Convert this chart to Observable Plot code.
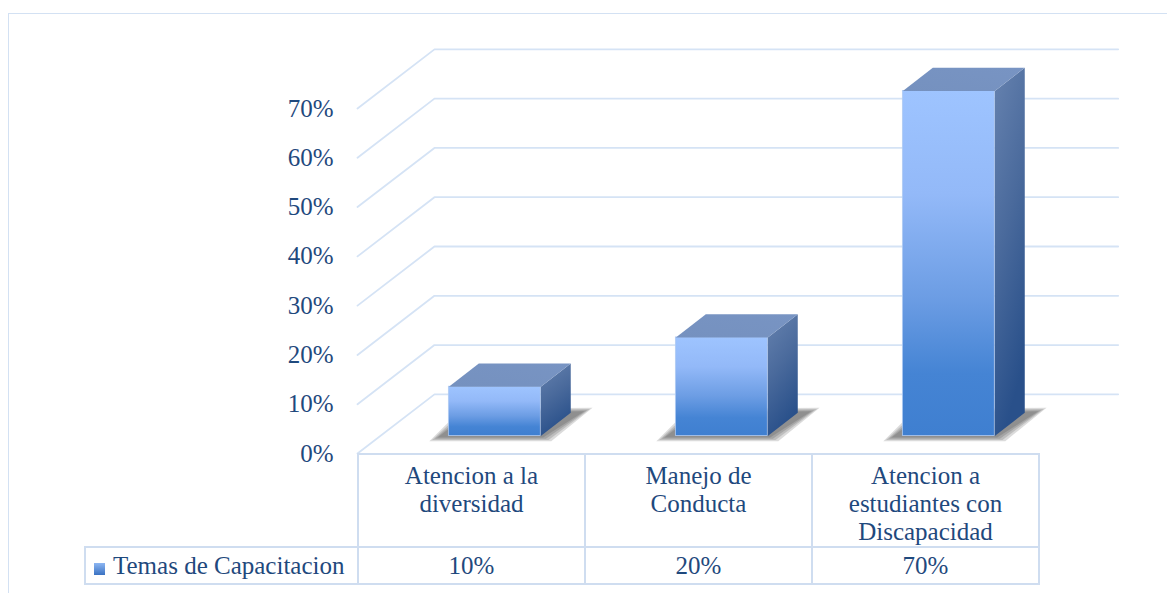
<!DOCTYPE html>
<html><head><meta charset="utf-8">
<script src="https://cdn.jsdelivr.net/npm/d3@7"></script>
<script src="https://cdn.jsdelivr.net/npm/@observablehq/plot@0.6"></script>
<style>
html,body{margin:0;padding:0;background:#fff;overflow:hidden;}
#wrap{position:relative;width:1167px;height:593px;overflow:hidden;font-family:"Liberation Serif",serif;color:#1F497D;}
#chart{position:absolute;left:0;top:0;}
#frame{position:absolute;left:8px;top:13px;width:1300px;height:700px;border:1.5px solid #D3E1F3;box-sizing:border-box;pointer-events:none;}
table{position:absolute;border-collapse:collapse;table-layout:fixed;font-size:25px;color:#1F497D;font-family:"Liberation Serif",serif;}
td{border:2px solid #CFDDF0;padding:0;}
td.cat{vertical-align:top;text-align:center;padding:7px 22px 0;line-height:28px;}
td.val{vertical-align:middle;text-align:center;line-height:1;}
td.leg{vertical-align:middle;white-space:nowrap;padding-left:8px;line-height:1;}
.key{display:inline-block;width:11px;height:12px;background:linear-gradient(#8DB6F2,#3A72C2);margin-right:8px;vertical-align:-1px;}
</style></head><body>
<div id="wrap"><div id="chart"></div><div id="frame"></div></div>
<script>
// ---- data ----
const categories = ["Atencion a la diversidad", "Manejo de Conducta", "Atencion a estudiantes con Discapacidad"];
const values = [10, 20, 70];
const yTicks = [0, 10, 20, 30, 40, 50, 60, 70];
const seriesName = "Temas de Capacitacion";
const valueLabels = values.map(v => v + "%");

// ---- oblique 3D projection constants (in scale units) ----
const DX = 0.339, DY = 12;                 // floor depth
const BAR_W = 0.405, OFF_X = 0.105, OFF_Y = 3.55, BDX = 0.132, BDY = 4.7;

const n = categories.length;
const grid = yTicks.flatMap(v => [
  {t: v, x: 0, y: v}, {t: v, x: DX, y: v + DY}, {t: v, x: n + DX + 0.012, y: v + DY}
]);
const bars = categories.map((c, i) => {
  const cx = i + 0.5 + OFF_X;
  return {c, v: values[i], x1: cx - BAR_W / 2, x2: cx + BAR_W / 2, y1: OFF_Y, y2: values[i] + OFF_Y};
});
const sideFaces = bars.flatMap(b => [
  {c: b.c, x: b.x2, y: b.y1}, {c: b.c, x: b.x2, y: b.y2},
  {c: b.c, x: b.x2 + BDX, y: b.y2 + BDY}, {c: b.c, x: b.x2 + BDX, y: b.y1 + BDY}
]);
const topFaces = bars.flatMap(b => [
  {c: b.c, x: b.x1, y: b.y2}, {c: b.c, x: b.x2, y: b.y2},
  {c: b.c, x: b.x2 + BDX, y: b.y2 + BDY}, {c: b.c, x: b.x1 + BDX, y: b.y2 + BDY}
]);
// soft shadow: a few stacked, growing footprints
const shadowLayers = [0, 1, 2, 3];
const shadows = bars.flatMap(b => shadowLayers.flatMap(k => {
  const ex = 0.012 * k, ey = 0.25 * k, id = b.c + "|" + k;
  return [
    {id, x: b.x1 - 0.05 - ex, y: b.y1 - 0.3 - ey}, {id, x: b.x2 + 0.01 + ex, y: b.y1 - 0.3 - ey},
    {id, x: b.x2 + BDX + 0.06 + ex, y: b.y1 + BDY + 0.3 + ey}, {id, x: b.x1 + BDX - 0.04 - ex, y: b.y1 + BDY + ey}
  ];
}));

const chart = Plot.plot({
  width: 1167, height: 593,
  marginLeft: 357, marginRight: 129, marginTop: 108, marginBottom: 140,
  x: {domain: [0, n], axis: null, label: null},
  y: {domain: [0, 70], label: null},
  style: {fontFamily: "Liberation Serif", color: "#1F497D", background: "transparent", overflow: "visible"},
  marks: [
    Plot.line(grid, {x: "x", y: "y", z: "t", stroke: "#D5E3F5", strokeWidth: 1.8}),
    Plot.axisY({ticks: yTicks, tickFormat: d => d + "%", tickSize: 0, tickPadding: 24, fontSize: 25, label: null}),
    Plot.line(shadows, {x: "x", y: "y", z: "id", curve: "linear-closed", fill: "#2a2a2a", fillOpacity: 0.17, stroke: "none"}),
    Plot.rect(bars, {x1: "x1", x2: "x2", y1: "y1", y2: "y2", fill: "url(#gFront)", stroke: "#B0CBF3", strokeWidth: 0.8}),
    Plot.line(sideFaces, {x: "x", y: "y", z: "c", curve: "linear-closed", fill: "url(#gSide)", stroke: "none"}),
    Plot.line(topFaces, {x: "x", y: "y", z: "c", curve: "linear-closed", fill: "url(#gTop)", stroke: "none"})
  ]
});

d3.select(chart).insert("defs", ":first-child").html(`
  <linearGradient id="gFront" x1="0" y1="0" x2="0" y2="1">
    <stop offset="0" stop-color="#9EC4FF"/>
    <stop offset="0.3" stop-color="#93B9F8"/>
    <stop offset="0.6" stop-color="#6C9DE4"/>
    <stop offset="0.82" stop-color="#4584D4"/>
    <stop offset="1" stop-color="#3F7FD0"/>
  </linearGradient>
  <linearGradient id="gSide" x1="0" y1="0" x2="0.3" y2="1">
    <stop offset="0" stop-color="#6682AF"/>
    <stop offset="0.5" stop-color="#4A6A9C"/>
    <stop offset="1" stop-color="#29508A"/>
  </linearGradient>
  <linearGradient id="gTop" x1="0" y1="1" x2="1" y2="0">
    <stop offset="0" stop-color="#7591BF"/>
    <stop offset="1" stop-color="#7894C3"/>
  </linearGradient>`);

document.getElementById("chart").appendChild(chart);

// ---- data table aligned with the x scale ----
const xs = chart.scale("x");
const edges = d3.range(n + 1).map(i => xs.apply(i));
const ys = chart.scale("y");
const tableTop = ys.apply(0);
const legLeft = 84;
const widths = [edges[0] - legLeft, ...d3.range(n).map(i => edges[i + 1] - edges[i])];
const table = document.createElement("table");
table.style.left = legLeft + "px";
table.style.top = tableTop + "px";
table.style.width = d3.sum(widths) + "px";
table.innerHTML =
  `<colgroup>${widths.map(w => `<col style="width:${w}px">`).join("")}</colgroup>` +
  `<tr style="height:92px"><td style="border-top:none;border-left:none"></td>${categories.map(c => `<td class="cat">${c}</td>`).join("")}</tr>` +
  `<tr style="height:37px"><td class="leg"><span class="key"></span>${seriesName}</td>${valueLabels.map(v => `<td class="val">${v}</td>`).join("")}</tr>`;
document.getElementById("wrap").appendChild(table);
</script>
</body></html>
